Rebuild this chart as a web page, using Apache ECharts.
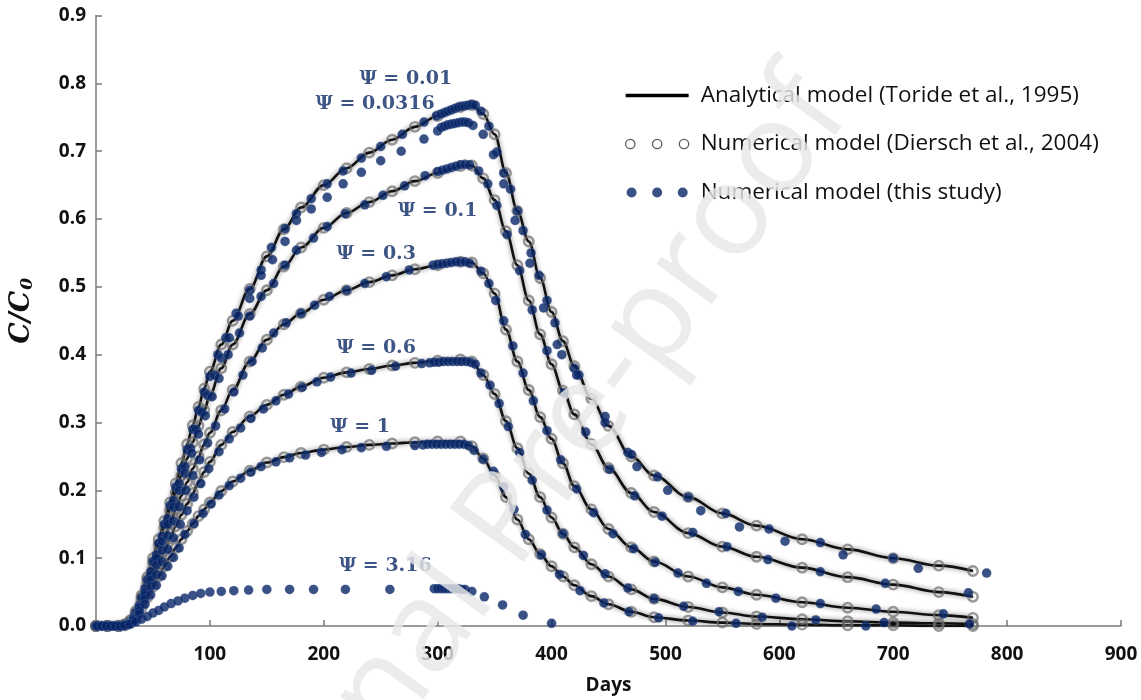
<!DOCTYPE html>
<html>
<head>
<meta charset="utf-8">
<script src="https://cdn.jsdelivr.net/npm/echarts@6/dist/echarts.min.js"></script>
<style>
html,body{margin:0;padding:0;background:#fff;}
#chart{width:1141px;height:700px;}
</style>
</head>
<body>
<div id="chart"></div>
<script>
// ---------- DATA ----------
const days = [0,10,20,25,30,35,40,45,50,55,60,65,70,75,80,85,90,95,100,110,120,135,150,165,180,200,220,240,260,280,300,320,330,340,350,360,370,380,390,400,410,420,435,450,470,490,520,550,580,620,660,700,740,770];

// Analytical model (Toride et al., 1995)
const anaPsi001 = [0,0,0,0.002,0.008,0.022,0.045,0.072,0.100,0.128,0.155,0.182,0.210,0.240,0.268,0.296,0.323,0.350,0.375,0.415,0.450,0.497,0.545,0.585,0.617,0.650,0.675,0.698,0.717,0.736,0.752,0.765,0.768,0.755,0.725,0.668,0.612,0.567,0.513,0.463,0.420,0.383,0.335,0.295,0.250,0.222,0.190,0.166,0.148,0.128,0.113,0.100,0.089,0.081];
const anaPsi01  = [0,0,0,0.002,0.007,0.020,0.042,0.068,0.094,0.120,0.146,0.172,0.197,0.222,0.247,0.271,0.295,0.318,0.340,0.380,0.415,0.460,0.495,0.530,0.558,0.587,0.609,0.625,0.641,0.656,0.668,0.678,0.679,0.660,0.628,0.582,0.532,0.480,0.430,0.386,0.347,0.312,0.268,0.233,0.196,0.168,0.137,0.117,0.102,0.086,0.072,0.061,0.050,0.043];
const anaPsi03  = [0,0,0,0.002,0.006,0.018,0.038,0.060,0.083,0.106,0.128,0.150,0.171,0.192,0.212,0.232,0.250,0.268,0.285,0.318,0.348,0.390,0.422,0.445,0.461,0.481,0.495,0.507,0.517,0.526,0.532,0.537,0.536,0.520,0.490,0.437,0.390,0.348,0.308,0.276,0.240,0.206,0.172,0.143,0.116,0.095,0.073,0.057,0.046,0.035,0.027,0.021,0.016,0.012];
const anaPsi06  = [0,0,0,0.001,0.005,0.016,0.033,0.052,0.072,0.091,0.110,0.129,0.147,0.164,0.180,0.196,0.212,0.227,0.242,0.267,0.286,0.309,0.326,0.341,0.353,0.366,0.374,0.379,0.384,0.388,0.391,0.393,0.390,0.370,0.342,0.302,0.262,0.225,0.190,0.160,0.136,0.116,0.091,0.073,0.054,0.040,0.028,0.020,0.014,0.010,0.007,0.005,0.004,0.003];
const anaPsi1   = [0,0,0,0.001,0.004,0.013,0.027,0.042,0.058,0.073,0.088,0.102,0.115,0.128,0.140,0.151,0.162,0.172,0.182,0.199,0.213,0.229,0.241,0.249,0.255,0.260,0.264,0.267,0.269,0.271,0.272,0.272,0.265,0.247,0.222,0.190,0.157,0.128,0.106,0.088,0.073,0.060,0.044,0.032,0.021,0.013,0.008,0.005,0.003,0.002,0.001,0.001,0,0];

// Numerical model (this study): [day, C/C0]
const dotsPsi001 = [[0,0],[4,0],[8,0],[12,0],[16,0],[20,0],[25,0.001],[30,0.006],[35,0.020],[40,0.042],[45,0.068],[50,0.095],[55,0.122],[60,0.150],[65,0.178],[70,0.205],[75,0.232],[80,0.260],[85,0.290],[90,0.318],[95,0.345],[100,0.368],[107,0.400],[114,0.425],[123,0.461],[135,0.495],[145,0.525],[154,0.558],[166,0.586],[176,0.608],[189,0.630],[203,0.652],[217,0.671],[233,0.690],[250,0.707],[269,0.725],[288,0.743],[299,0.752],[303,0.755],[306,0.757],[309,0.759],[312,0.761],[315,0.763],[318,0.765],[321,0.766],[324,0.767],[327,0.768],[330,0.769],[333,0.768],[338,0.759],[345,0.737],[352,0.699],[358,0.668],[364,0.644],[370,0.612],[375,0.583],[382,0.550],[389,0.517],[396,0.480],[403,0.447],[409,0.400],[420,0.380],[424,0.370],[447,0.309],[467,0.256],[475,0.235],[493,0.220],[520,0.190],[553,0.166],[591,0.143],[636,0.123],[700,0.100],[782,0.078]];
const dotsPsi00316 = [[2,0],[6,0],[10,0],[14,0],[18,0],[22,0],[28,0.003],[33,0.013],[38,0.030],[43,0.055],[48,0.080],[53,0.105],[58,0.132],[63,0.158],[68,0.185],[73,0.210],[78,0.235],[83,0.262],[88,0.290],[93,0.315],[98,0.340],[104,0.370],[110,0.395],[117,0.425],[125,0.457],[135,0.483],[145,0.517],[155,0.540],[166,0.567],[176,0.598],[189,0.615],[203,0.632],[217,0.652],[233,0.669],[250,0.686],[268,0.700],[288,0.718],[300,0.730],[303,0.735],[306,0.737],[309,0.739],[312,0.740],[315,0.741],[318,0.742],[321,0.743],[324,0.743],[327,0.742],[331,0.738],[340,0.725],[349,0.695],[358,0.652],[368,0.598],[381,0.535],[393,0.469],[405,0.415],[422,0.370],[447,0.300],[470,0.253],[502,0.200],[531,0.170],[565,0.146],[605,0.125],[656,0.105],[722,0.085]];
const dotsPsi01 = [[1,0],[5,0],[9,0],[13,0],[17,0],[21,0],[28,0.003],[33,0.012],[38,0.028],[43,0.050],[48,0.075],[53,0.100],[58,0.125],[63,0.150],[68,0.175],[73,0.200],[78,0.225],[84,0.255],[90,0.283],[96,0.310],[102,0.338],[108,0.365],[116,0.400],[126,0.432],[135,0.457],[145,0.486],[156,0.505],[166,0.532],[176,0.554],[191,0.572],[203,0.589],[219,0.608],[236,0.621],[252,0.635],[271,0.649],[289,0.664],[300,0.670],[304,0.672],[308,0.674],[312,0.676],[316,0.678],[320,0.680],[324,0.681],[328,0.680],[336,0.671],[344,0.652],[352,0.620],[361,0.577],[372,0.524],[383,0.466],[396,0.406],[411,0.344],[430,0.286],[451,0.231],[473,0.192],[497,0.162],[524,0.138],[554,0.117],[590,0.098],[636,0.080],[693,0.063],[766,0.049]];
const dotsPsi03 = [[3,0],[7,0],[11,0],[15,0],[19,0],[23,0],[28,0.003],[33,0.011],[38,0.026],[43,0.046],[48,0.068],[53,0.090],[58,0.112],[63,0.133],[68,0.155],[73,0.176],[79,0.200],[85,0.222],[91,0.245],[98,0.270],[105,0.295],[113,0.320],[121,0.345],[129,0.370],[137,0.390],[146,0.410],[156,0.432],[167,0.447],[180,0.461],[192,0.473],[205,0.486],[220,0.495],[236,0.505],[255,0.515],[275,0.525],[296,0.532],[300,0.533],[304,0.534],[308,0.535],[312,0.536],[316,0.537],[320,0.537],[324,0.537],[328,0.535],[338,0.523],[345,0.505],[351,0.480],[358,0.450],[366,0.413],[375,0.373],[384,0.332],[396,0.288],[408,0.245],[422,0.202],[437,0.167],[454,0.136],[472,0.114],[491,0.094],[511,0.078],[536,0.063],[564,0.051],[597,0.041],[636,0.033],[685,0.025],[744,0.018]];
const dotsPsi06 = [[0,0],[4,0],[8,0],[12,0],[16,0],[20,0],[28,0.002],[33,0.010],[38,0.022],[43,0.040],[48,0.058],[53,0.076],[58,0.095],[63,0.113],[68,0.130],[74,0.150],[80,0.170],[86,0.190],[92,0.210],[99,0.232],[108,0.257],[117,0.276],[127,0.292],[136,0.306],[147,0.320],[158,0.332],[169,0.342],[181,0.352],[194,0.360],[206,0.367],[224,0.373],[242,0.377],[263,0.383],[286,0.387],[293,0.388],[297,0.389],[301,0.389],[305,0.390],[309,0.390],[313,0.390],[317,0.390],[321,0.390],[325,0.390],[329,0.389],[333,0.386],[338,0.373],[346,0.355],[354,0.328],[362,0.294],[372,0.256],[383,0.215],[396,0.171],[410,0.136],[428,0.104],[447,0.077],[467,0.056],[490,0.040],[516,0.029],[547,0.021],[585,0.013],[632,0.009],[692,0.005],[767,0.003]];
const dotsPsi1 = [[2,0],[6,0],[10,0],[14,0],[18,0],[22,0],[28,0.002],[33,0.008],[38,0.018],[43,0.032],[48,0.046],[53,0.060],[58,0.074],[63,0.088],[68,0.101],[73,0.115],[78,0.135],[86,0.151],[94,0.166],[101,0.180],[108,0.193],[117,0.207],[127,0.218],[136,0.227],[145,0.235],[158,0.242],[170,0.248],[184,0.252],[198,0.256],[216,0.260],[233,0.263],[255,0.265],[280,0.266],[287,0.267],[291,0.268],[295,0.268],[299,0.268],[303,0.268],[307,0.268],[311,0.268],[315,0.268],[319,0.268],[323,0.268],[327,0.266],[332,0.259],[340,0.246],[349,0.228],[358,0.205],[367,0.172],[377,0.135],[391,0.105],[407,0.076],[425,0.052],[446,0.034],[468,0.021],[494,0.012],[524,0.007],[562,0.004],[611,0],[676,0]];
const dotsPsi316 = [[1,0],[5,0],[9,0],[13,0],[17,0],[21,0],[25,0.001],[30,0.003],[35,0.006],[40,0.010],[45,0.014],[50,0.019],[55,0.023],[60,0.028],[66,0.033],[72,0.037],[78,0.041],[85,0.045],[92,0.048],[100,0.050],[110,0.051],[121,0.052],[134,0.053],[150,0.054],[170,0.054],[191,0.054],[219,0.054],[258,0.054],[297,0.055],[300,0.055],[303,0.055],[306,0.055],[309,0.055],[312,0.055],[315,0.055],[318,0.055],[321,0.054],[324,0.054],[330,0.051],[341,0.043],[357,0.031],[375,0.016],[400,0.004]];

// Curve labels and where they sit (data coordinates)
const curveLabels = ['Ψ = 0.01','Ψ = 0.0316','Ψ = 0.1','Ψ = 0.3','Ψ = 0.6','Ψ = 1','Ψ = 3.16'];
const labelAnchors = [[272,0.806],[245,0.770],[300,0.612],[246,0.549],[246,0.410],[232,0.293],[254,0.088]];

const xTicks = [0,100,200,300,400,500,600,700,800,900];
const yTicks = [0,0.1,0.2,0.3,0.4,0.5,0.6,0.7,0.8,0.9];

const legendNames = ['Analytical model (Toride et al., 1995)','Numerical model (Diersch et al., 2004)','Numerical model (this study)'];

// ---------- CHART ----------
const NAVY = '#072567';
const chart = echarts.init(document.getElementById('chart'), null, {renderer:'canvas'});
const series = [];
const anaCurves = [anaPsi001, anaPsi01, anaPsi03, anaPsi06, anaPsi1];
anaCurves.forEach(vals => {
  const data = days.map((d,i)=>[d, vals[i]]);
  series.push({
    type:'line', name: legendNames[0], data, smooth:0.35, smoothMonotone:'x',
    showSymbol:false, symbol:'none', z:2, silent:true,
    lineStyle:{color:'#111', width:2.6, shadowBlur:5, shadowColor:'rgba(0,0,0,0.55)'},
    itemStyle:{color:'#000'}
  });
  series.push({
    type:'scatter', name: legendNames[1], data, symbol:'circle', symbolSize:9.5, z:3, silent:true,
    itemStyle:{color:'rgba(255,255,255,0)', borderColor:'rgba(105,105,105,0.85)', borderWidth:2.4}
  });
});
[dotsPsi001, dotsPsi00316, dotsPsi01, dotsPsi03, dotsPsi06, dotsPsi1, dotsPsi316].forEach(pts => {
  series.push({
    type:'scatter', name: legendNames[2], data: pts, symbol:'circle', symbolSize:9.5, z:5, silent:true,
    itemStyle:{color:NAVY, borderColor:'rgba(150,165,200,0.55)', borderWidth:0.5}
  });
});
series.push({
  type:'scatter', name:'labels', data: labelAnchors.map((p,i)=>({value:p, name:curveLabels[i]})),
  symbolSize:0, z:6, silent:true,
  label:{show:true, position:'inside', formatter:p=>p.name, color:'#0c2a66',
    fontFamily:'DejaVu Serif', fontWeight:'bold', fontSize:19}
});

const option = {
  animation:false,
  backgroundColor:'#fff',
  grid:{left:95, right:20, top:15.6, bottom:70, containLabel:false},
  legend:{
    orient:'vertical', left:620, top:79, itemWidth:63, itemHeight:10, itemGap:25.5,
    symbolKeepAspect:true,
    textStyle:{fontFamily:'Open Sans', fontSize:22.5, color:'#111', padding:[0,0,0,7]},
    data:[
      {name:legendNames[0], icon:'path://M0,0H63V3.6H0Z', itemStyle:{color:'#000', borderWidth:0}},
      {name:legendNames[1], icon:'path://M0.5,4.5A4,4,0,1,1,8.5,4.5A4,4,0,1,1,0.5,4.5ZM23.5,4.5A4,4,0,1,1,31.5,4.5A4,4,0,1,1,23.5,4.5ZM46.5,4.5A4,4,0,1,1,54.5,4.5A4,4,0,1,1,46.5,4.5Z',
        itemStyle:{color:'rgba(255,255,255,0)', borderColor:'#333', borderWidth:1.3}},
      {name:legendNames[2], icon:'path://M0,4.5A4.5,4.5,0,1,1,9,4.5A4.5,4.5,0,1,1,0,4.5ZM23,4.5A4.5,4.5,0,1,1,32,4.5A4.5,4.5,0,1,1,23,4.5ZM46,4.5A4.5,4.5,0,1,1,55,4.5A4.5,4.5,0,1,1,46,4.5Z',
        itemStyle:{color:NAVY, borderWidth:0}}
    ]
  },
  xAxis:{
    type:'value', min:xTicks[0], max:xTicks[xTicks.length-1], interval:100,
    name:'Days', nameLocation:'middle', nameGap:50,
    nameTextStyle:{fontFamily:'Open Sans', fontWeight:'bold', fontSize:19, color:'#111'},
    axisLine:{show:true, lineStyle:{color:'#7a7a7a', width:1.5}},
    axisTick:{show:true, inside:true, length:6, lineStyle:{color:'#7a7a7a', width:1.5}},
    axisLabel:{formatter:v=> v===0 ? '' : String(v), fontFamily:'Open Sans', fontWeight:'bold', fontSize:19, color:'#111', margin:19},
    splitLine:{show:false}
  },
  yAxis:{
    type:'value', min:yTicks[0], max:yTicks[yTicks.length-1], interval:0.1,
    name:'{a|C/C}{b|0}', nameLocation:'middle', nameGap:60,
    nameTextStyle:{padding:[0,0,0,20], rich:{
      a:{fontFamily:'DejaVu Serif', fontStyle:'italic', fontWeight:'bold', fontSize:27, color:'#111'},
      b:{fontFamily:'DejaVu Serif', fontStyle:'italic', fontWeight:'bold', fontSize:17, color:'#111', padding:[12,0,0,1]}
    }},
    axisLine:{show:true, lineStyle:{color:'#7a7a7a', width:1.5}},
    axisTick:{show:true, inside:true, length:6, lineStyle:{color:'#7a7a7a', width:1.5}},
    axisLabel:{formatter:v=>v.toFixed(1), fontFamily:'Open Sans', fontWeight:'bold', fontSize:19, color:'#111', margin:10},
    splitLine:{show:false}
  },
  graphic:[{
    type:'text', x:520, y:505, rotation:0.94, z:100, silent:true,
    style:{text:'Journal Pre-proof', fontFamily:'Open Sans', fontSize:128, fill:'rgba(232,232,232,0.82)', textAlign:'center', textVerticalAlign:'middle'}
  }],
  series
};
chart.setOption(option);
</script>
</body>
</html>
